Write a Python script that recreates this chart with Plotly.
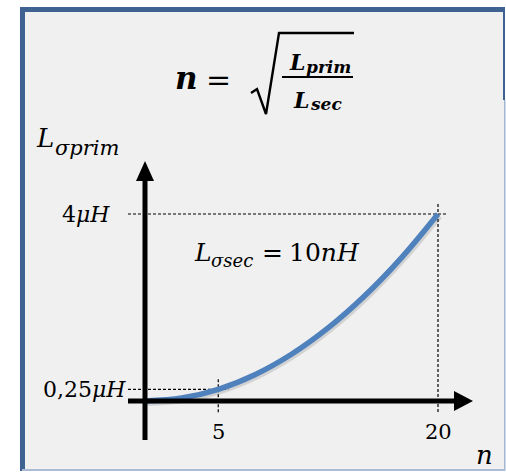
import plotly.graph_objects as go

W, H = 506, 472

# Turns ratio n and primary leakage inductance in µH (L_σsec = 10 nH)
n_values = [0, 2.5, 5, 7.5, 10, 12.5, 15, 17.5, 20]
l_prim_uh = [0, 0.0625, 0.25, 0.5625, 1.0, 1.5625, 2.25, 3.0625, 4.0]

# Marked operating points and their axis labels
marked_n = [5, 20]
marked_l = [0.25, 4.0]
n_tick_labels = ["5", "20"]
l_tick_labels = ["0,25<i>μH</i>", "4<i>μH</i>"]
l_label_right_px = [127, 111]

# Pixel position of the axis origin and scale per unit
ORIGIN_X, ORIGIN_Y = 145, 401
PX_PER_N = 14.65
PX_PER_UH = 46.75


def dx(px):
    return (px - ORIGIN_X) / PX_PER_N


def dy(py):
    return (ORIGIN_Y - py) / PX_PER_UH


def fx(px):
    return px / W


def fy(py):
    return 1 - py / H


SERIF = "DejaVu Serif"
BORDER = "#3f6391"
CURVE = "#4f81bd"

fig = go.Figure()

# dashed guide lines to the marked points
for n, l in zip(marked_n, marked_l):
    fig.add_trace(go.Scatter(
        x=[dx(128), n + 10 / PX_PER_N], y=[l, l], mode="lines",
        line=dict(color="black", width=1.2, dash="3px,2px"), hoverinfo="skip"))
    fig.add_trace(go.Scatter(
        x=[n, n], y=[l + 10 / PX_PER_UH, dy(413)], mode="lines",
        line=dict(color="black", width=1.2, dash="3px,2px"), hoverinfo="skip"))

# soft shadow under the curve
fig.add_trace(go.Scatter(
    x=[v + 1.5 / PX_PER_N for v in n_values],
    y=[v - 2 / PX_PER_UH for v in l_prim_uh],
    mode="lines", line=dict(color="rgba(0,0,0,0.12)", width=6, shape="spline"),
    hoverinfo="skip"))

# L_σprim = n² · L_σsec
fig.add_trace(go.Scatter(
    x=n_values, y=l_prim_uh, mode="lines",
    line=dict(color=CURVE, width=5.5, shape="spline"), hoverinfo="skip"))

shapes = []


def prect(x0, y0, x1, y1, color, layer="below"):
    shapes.append(dict(type="rect", xref="paper", yref="paper",
                       x0=fx(x0), x1=fx(x1), y0=fy(y1), y1=fy(y0),
                       fillcolor=color, line=dict(width=0), layer=layer))


# panel frame
prect(22, 9, 505, 471, "#f0f0f0")
prect(20, 7, 25, 471, BORDER, "above")
prect(20, 7, 505, 12, BORDER, "above")
prect(503, 7, 505, 100, BORDER, "above")
prect(504, 100, 505.5, 471, "#a3b6d2", "above")
prect(22, 469, 505, 471, "#a9bbd6", "above")

# axes with arrowheads
shapes.append(dict(type="line", xref="x", yref="y", x0=dx(128), x1=dx(458),
                   y0=0, y1=0, line=dict(color="black", width=5), layer="above"))
shapes.append(dict(type="line", xref="x", yref="y", x0=0, x1=0,
                   y0=dy(440), y1=dy(176), line=dict(color="black", width=5),
                   layer="above"))
shapes.append(dict(type="path", xref="x", yref="y",
                   path=f"M {dx(473)} 0 L {dx(454)} {dy(391)} L {dx(454)} {dy(411)} Z",
                   fillcolor="black", line=dict(width=0), layer="above"))
shapes.append(dict(type="path", xref="x", yref="y",
                   path=f"M 0 {dy(161)} L {dx(136)} {dy(181)} L {dx(154)} {dy(181)} Z",
                   fillcolor="black", line=dict(width=0), layer="above"))

# radical sign and fraction bar of the formula
shapes.append(dict(type="path", xref="paper", yref="paper",
                   path=(f"M {fx(251)} {fy(93)} L {fx(257)} {fy(89)} L {fx(266)} {fy(114)} "
                         f"L {fx(279)} {fy(33)} L {fx(354)} {fy(33)}"),
                   line=dict(color="black", width=2.4), layer="above"))
shapes.append(dict(type="line", xref="paper", yref="paper",
                   x0=fx(282), x1=fx(353), y0=fy(77), y1=fy(77),
                   line=dict(color="black", width=2), layer="above"))

annotations = []


def text(x, y, s, size, xanchor="center", data=False):
    if data:
        xref, yref = "x", "y"
    else:
        xref, yref = "paper", "paper"
        x, y = fx(x), fy(y)
    annotations.append(dict(x=x, y=y, xref=xref, yref=yref, text=s, showarrow=False,
                            xanchor=xanchor, yanchor="middle", borderpad=0,
                            font=dict(family=SERIF, size=size, color="black")))


# formula n = sqrt(L_prim / L_sec)
text(186, 78, "<b><i>n</i></b>", 31)
text(218, 79, "=", 30)
text(288, 62, "<b><i>L</i></b>", 22, xanchor="left")
text(305, 66.5, "<b><i>prim</i></b>", 17, xanchor="left")
text(292, 99.5, "<b><i>L</i></b>", 22, xanchor="left")
text(309, 104, "<b><i>sec</i></b>", 17, xanchor="left")

# vertical axis title
text(35, 138, "<i>L</i>", 26, xanchor="left")
text(54, 148, "<i>σprim</i>", 21, xanchor="left")

# horizontal axis title
text(484, 455, "<i>n</i>", 26)

# secondary leakage inductance note
text(193, 252, "<i>L</i>", 25, xanchor="left")
text(210, 260, "<i>σsec</i>", 18, xanchor="left")
text(261, 252, "=", 25, xanchor="left")
text(288, 252, "10<i>nH</i>", 25, xanchor="left")

for n, lab in zip(marked_n, n_tick_labels):
    text(n, dy(432), lab, 21, data=True)
for l, lab, rpx in zip(marked_l, l_tick_labels, l_label_right_px):
    text(dx(rpx), l, lab, 22, xanchor="right", data=True)

fig.update_layout(
    width=W, height=H, margin=dict(l=0, r=0, t=0, b=0),
    paper_bgcolor="white", plot_bgcolor="rgba(0,0,0,0)",
    showlegend=False, shapes=shapes, annotations=annotations,
    xaxis=dict(range=[dx(0), dx(W)], visible=False, fixedrange=True),
    yaxis=dict(range=[dy(H), dy(0)], visible=False, fixedrange=True),
)

fig.write_html("out.html")
